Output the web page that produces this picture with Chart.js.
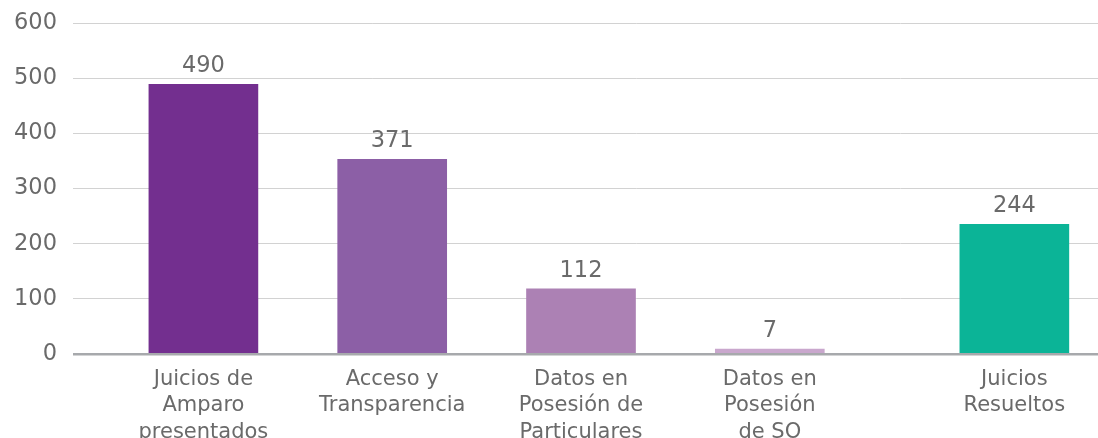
<!DOCTYPE html>
<html>
<head>
<meta charset="utf-8">
<script src="https://cdn.jsdelivr.net/npm/chart.js@4/dist/chart.umd.min.js"></script>
<style>
  html, body { margin: 0; padding: 0; background: #fff; overflow: hidden; }
  #wrap { width: 1172px; height: 460px; }
</style>
</head>
<body>
<div id="wrap"><canvas id="barchart"></canvas></div>
<script>
// recursos por tipo (bar heights, labels as printed)
const recursoCategories = [
    ['Juicios de', 'Amparo', 'presentados'],
    ['Acceso y', 'Transparencia'],
    ['Datos en', 'Posesión de', 'Particulares'],
    ['Datos en', 'Posesión', 'de SO']
];
const recursoValues = [489, 353, 118, 9];
const recursoLabels = ['490', '371', '112', '7'];

const resueltosCategories = [['Juicios', 'Resueltos']];
const resueltosValues = [235];
const resueltosLabels = ['244'];

const textColor = '#6a6a6a';
const gridColor = '#d2d2d2';
const axisColor = '#a7a9ac';
const fontFamily = '"DejaVu Sans", sans-serif';

// draws the printed value above each bar
const valueLabels = {
    id: 'valueLabels',
    afterDatasetsDraw(chart) {
        const ctx = chart.ctx;
        ctx.save();
        ctx.font = '22.5px ' + fontFamily;
        ctx.fillStyle = textColor;
        ctx.textAlign = 'center';
        ctx.textBaseline = 'alphabetic';
        chart.data.datasets.forEach((ds, di) => {
            chart.getDatasetMeta(di).data.forEach((bar, i) => {
                ctx.fillText(ds.printed[i], bar.x, bar.y - 12);
            });
        });
        ctx.restore();
    }
};

const xTicks = {
    color: textColor,
    padding: 12,
    maxRotation: 0,
    autoSkip: false,
    font: { family: fontFamily, size: 21, lineHeight: 1.27 }
};

const ctx = document.getElementById('barchart').getContext('2d');

const myBarChart = new Chart(ctx, {
    type: 'bar',
    data: {
        datasets: [{
            label: 'Recursos',
            data: recursoValues,
            printed: recursoLabels,
            xAxisID: 'x',
            grouped: false,
            backgroundColor: ['#732f8f', '#8c5fa6', '#ac81b4', '#c9a7cd'],
            barThickness: 109
        }, {
            label: 'Juicios Resueltos',
            data: resueltosValues,
            printed: resueltosLabels,
            xAxisID: 'x2',
            grouped: false,
            backgroundColor: '#0bb497',
            barThickness: 109
        }]
    },
    options: {
        responsive: true,
        maintainAspectRatio: false,
        animation: false,
        layout: { padding: { top: 23, bottom: 2, left: 0, right: 0 } },
        plugins: {
            legend: { display: false },
            tooltip: { enabled: false }
        },
        scales: {
            x: {
                type: 'category',
                labels: recursoCategories,
                stack: 'cats',
                stackWeight: 2.515,
                grid: { display: false, drawTicks: false },
                border: { display: false },
                ticks: xTicks
            },
            x2: {
                type: 'category',
                labels: resueltosCategories,
                position: 'bottom',
                stack: 'cats',
                stackWeight: 1,
                grid: { display: false, drawTicks: false },
                border: { display: false },
                ticks: xTicks
            },
            y: {
                min: 0,
                max: 600,
                ticks: {
                    stepSize: 100,
                    color: textColor,
                    padding: 16,
                    font: { family: fontFamily, size: 22.5 }
                },
                grid: {
                    color: (c) => c.tick && c.tick.value === 0 ? axisColor : gridColor,
                    lineWidth: (c) => c.tick && c.tick.value === 0 ? 2.5 : 1,
                    tickColor: (c) => c.tick && c.tick.value === 0 ? axisColor : gridColor,
                    tickWidth: (c) => c.tick && c.tick.value === 0 ? 2.5 : 1,
                    tickLength: 36
                },
                border: { display: false },
                afterFit: (scale) => {
                    scale.width = 109;
                    scale.paddingTop = 0;
                    scale.paddingBottom = 0;
                }
            }
        }
    },
    plugins: [valueLabels]
});
</script>
</body>
</html>
